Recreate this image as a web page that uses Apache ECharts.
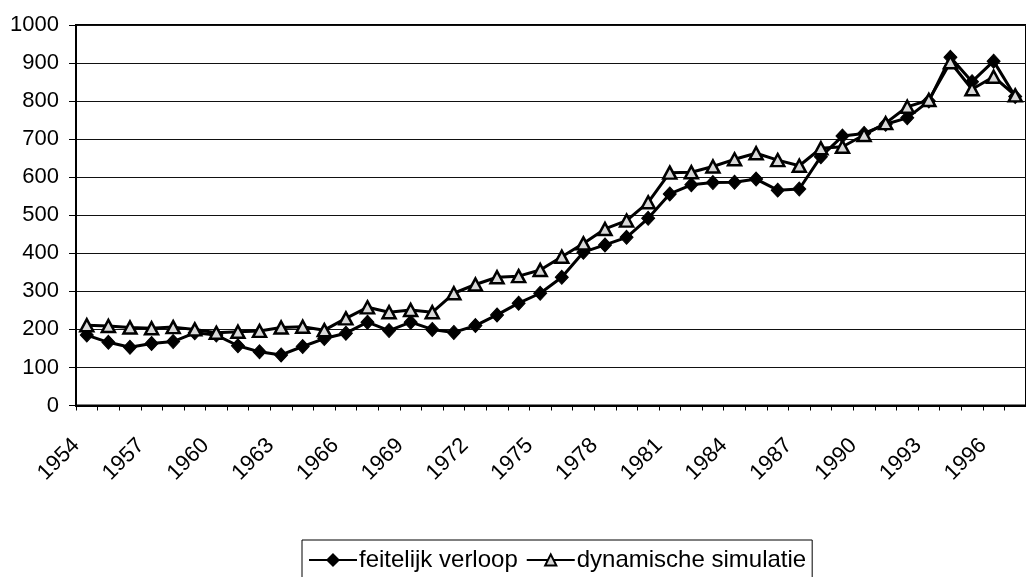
<!DOCTYPE html>
<html>
<head>
<meta charset="utf-8">
<script src="https://cdn.jsdelivr.net/npm/echarts@6/dist/echarts.min.js"></script>
<style>
html,body{margin:0;padding:0;background:#fff;}
#chart{width:1026px;height:577px;}
</style>
</head>
<body>
<div id="chart"></div>
<script>
var years = [];
for (var y = 1954; y <= 1997; y++) years.push(String(y));

var seriesNames = ['feitelijk verloop', 'dynamische simulatie'];

var feitelijk = [185,166,153,163,168,191,185,157,141,133,155,176,190,219,197,219,200,192,210,238,
  269,295,337,403,422,442,492,556,580,586,587,595,566,569,654,708,715,739,756,800,915,851,905,812];

var simulatie = [211,209,205,203,206,200,191,194,196,205,207,198,229,258,245,251,245,295,318,337,
  340,356,391,426,464,486,534,612,613,628,647,663,645,630,676,680,711,742,785,803,902,831,864,815];

var yMin = 0, yMax = 1000, yStep = 100;

var font = "'Liberation Sans', Arial, sans-serif";
var chart = echarts.init(document.getElementById('chart'), null, {renderer: 'canvas'});
chart.setOption({
  animation: false,
  backgroundColor: '#fff',
  textStyle: {fontFamily: font, color: '#000'},
  grid: {
    left: 76, top: 25, right: -11, bottom: 171.5,
    show: true, borderColor: '#000', borderWidth: 2, backgroundColor: 'transparent'
  },
  legend: {
    data: seriesNames,
    left: 302, top: 540,
    orient: 'horizontal',
    padding: [8, 6, 30, 6],
    borderColor: '#000', borderWidth: 1,
    itemWidth: 48, itemHeight: 14, itemGap: 8,
    textStyle: {fontSize: 24, color: '#000', fontFamily: font, padding: [0, 0, 0, -3]}
  },
  xAxis: {
    type: 'category',
    data: years,
    boundaryGap: true,
    axisLine: {lineStyle: {color: '#000', width: 2}},
    axisTick: {show: true, interval: 0, length: 5, lineStyle: {color: '#000', width: 1}},
    axisLabel: {
      interval: 2, rotate: 45, fontSize: 22, color: '#000', fontFamily: font,
      margin: 26, padding: [0, 15, 0, 0]
    },
    splitLine: {show: false}
  },
  yAxis: {
    type: 'value',
    min: yMin, max: yMax, interval: yStep,
    axisLine: {show: true, lineStyle: {color: '#000', width: 2}},
    axisTick: {show: true, length: 7, lineStyle: {color: '#000', width: 1}},
    axisLabel: {fontSize: 22, color: '#000', fontFamily: font, margin: 17,
      formatter: function (v) { return String(v); }},
    splitLine: {show: true, lineStyle: {color: '#111', width: 1}}
  },
  series: [
    {
      name: seriesNames[0], type: 'line', data: feitelijk,
      symbol: 'diamond', symbolSize: [13, 14],
      lineStyle: {color: '#000', width: 3},
      itemStyle: {color: '#000', borderColor: '#000', borderWidth: 1},
      z: 2
    },
    {
      name: seriesNames[1], type: 'line', data: simulatie,
      symbol: 'triangle', symbolSize: [13, 12],
      lineStyle: {color: '#000', width: 3},
      itemStyle: {color: '#d8d8d8', borderColor: '#000', borderWidth: 2.5},
      z: 3
    }
  ]
});
</script>
</body>
</html>
